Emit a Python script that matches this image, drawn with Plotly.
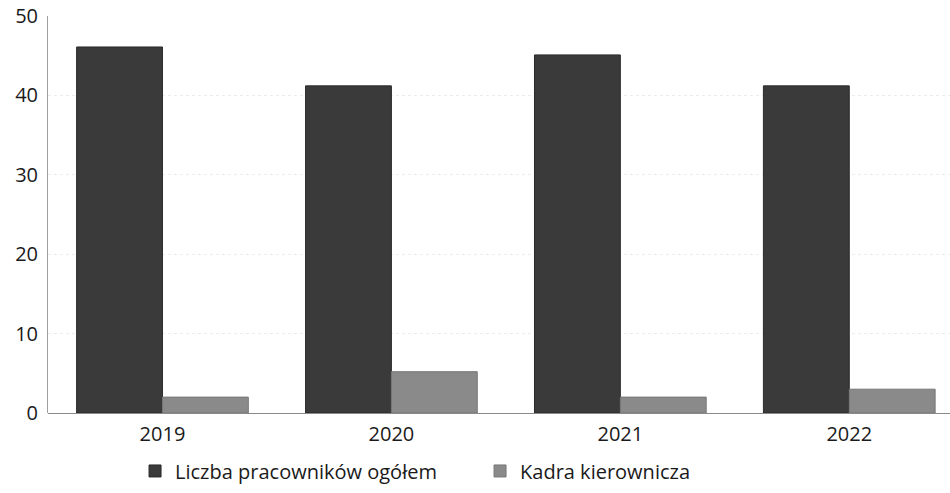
import plotly.graph_objects as go

years = ["2019", "2020", "2021", "2022"]
ogolem = [46.1, 41.2, 45.1, 41.2]
kadra = [2.0, 5.2, 2.0, 3.0]

fig = go.Figure()
fig.add_trace(go.Bar(
    x=years, y=ogolem, name="Liczba pracowników ogółem",
    marker=dict(color="#3a3a3a", line=dict(color="#2a2a2a", width=1)),
))
fig.add_trace(go.Bar(
    x=years, y=kadra, name="Kadra kierownicza",
    marker=dict(color="#8a8a8a", line=dict(color="#777777", width=1)),
))

fig.update_layout(
    width=950, height=493,
    margin=dict(l=48, r=0, t=16, b=80, autoexpand=False),
    paper_bgcolor="white", plot_bgcolor="white",
    barmode="group", bargap=0.25, bargroupgap=0,
    font=dict(family="Open Sans", size=20, color="#1a1a1a"),
    showlegend=True,
    legend=dict(orientation="h", x=0.0965, xanchor="left", y=-0.146, yanchor="middle",
                font=dict(size=20, color="#1a1a1a"), traceorder="normal",
                itemwidth=30, entrywidth=300, entrywidthmode="pixels"),
    xaxis=dict(type="category", range=[-0.5, 3.44], showgrid=False,
               showline=False, ticks="", tickfont=dict(size=20), automargin=False,
               ticklabelstandoff=7, ticklabeloverflow="allow"),
    yaxis=dict(range=[0, 50], tickvals=[0, 10, 20, 30, 40, 50],
               showgrid=True, gridcolor="#ececec", griddash="dot", gridwidth=1,
               showline=True, linecolor="#a0a0a0", linewidth=1,
               zeroline=True, zerolinecolor="#8a8a8a", zerolinewidth=1,
               ticks="", ticklen=0, tickfont=dict(size=20), automargin=False,
               ticklabelstandoff=5, ticklabeloverflow="allow"),
)

fig.write_html("out.html", config={"displayModeBar": False},
               post_script="document.body.style.margin='0';")
